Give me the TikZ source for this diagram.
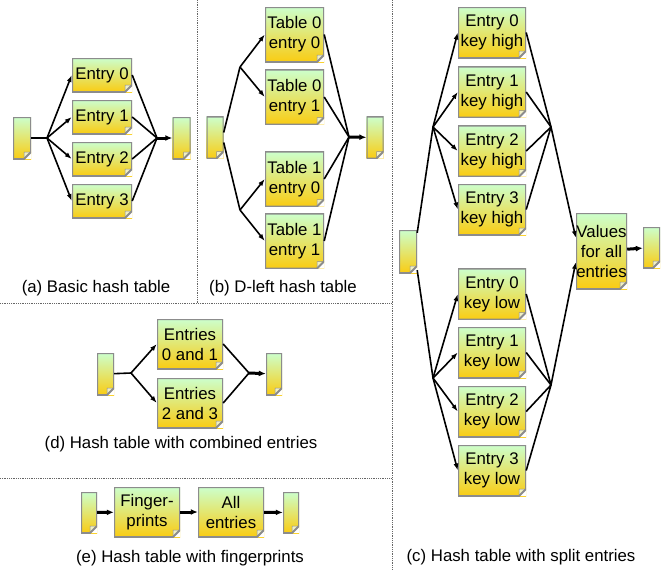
\documentclass[tikz,border=0pt]{standalone}
\usepackage{fontspec}
\setmainfont{Liberation Sans}
\usetikzlibrary{arrows.meta}
\definecolor{notetop}{RGB}{204,255,204}
\definecolor{notebot}{RGB}{250,204,18}
\definecolor{notefold}{RGB}{240,240,196}
\definecolor{noteline}{RGB}{140,140,140}
\tikzset{
  note/.style 2 args={minimum width=#1pt, minimum height=#2pt, inner sep=0pt, align=center,
    top color=notetop, bottom color=notebot, font=\fontsize{16.8}{20}\selectfont,
    path picture={
      \fill[white] ([xshift=-7pt]path picture bounding box.south east) -- (path picture bounding box.south east)
        -- ([yshift=7pt]path picture bounding box.south east) -- cycle;
      \filldraw[fill=notefold, draw=noteline, line width=0.5pt] ([xshift=-7pt]path picture bounding box.south east)
        -- ([shift={(-7pt,7pt)}]path picture bounding box.south east) -- ([yshift=7pt]path picture bounding box.south east) -- cycle;
      \draw[noteline, line width=2pt] (path picture bounding box.south west) -- (path picture bounding box.north west)
        -- (path picture bounding box.north east) -- ([yshift=7pt]path picture bounding box.south east)
        -- ([xshift=-7pt]path picture bounding box.south east) -- cycle;
    }},
  link/.style={line width=1.6pt},
  arr/.style={line width=1.6pt, -{Latex[length=7pt,width=5pt]}},
  outarr/.style={line width=3pt, -{Latex[length=7pt,width=6pt]}},
  sep/.style={densely dotted, line width=0.8pt, black!60},
  captxt/.style={font=\fontsize{16.8}{20}\selectfont}
}
\begin{document}
\begin{tikzpicture}[x=1pt,y=-1pt]
    \useasboundingbox (0,0) rectangle (668,570);
    \draw[sep] (197,0) -- (197,303);
    \draw[sep] (0,303) -- (392,303);
    \draw[sep] (392,0) -- (392,570);
    \draw[sep] (0,478) -- (392,478);

    \node[note={18}{42}] (inA) at (22,138) {};
    \node[note={60}{34}] (a0) at (102,75) {Entry 0};
    \node[note={60}{34}] (a1) at (102,117) {Entry 1};
    \node[note={60}{34}] (a2) at (102,159) {Entry 2};
    \node[note={60}{34}] (a3) at (102,201) {Entry 3};
    \node[note={18}{42}] (outA) at (181.5,138) {};
    \coordinate (splitA) at (47,138);
    \coordinate (joinA) at (157,138);
    \draw[link] (inA) -- (splitA);
    \foreach \i in {0,...,3} {
        \draw[arr] (splitA) -- (a\i.west);
        \draw[link] (a\i.east) -- (joinA);
    }
    \draw[outarr] (joinA) -- (outA);
    \node[captxt] (capA) at (96,288) {(a) Basic hash table};

    \node[note={17}{42}] (inB) at (215,137.5) {};
    \node[note={59}{55}] (b0) at (294.5,34.5) {Table 0\\entry 0};
    \node[note={59}{55}] (b1) at (294.5,97) {Table 0\\entry 1};
    \node[note={59}{55}] (b2) at (294.5,179) {Table 1\\entry 0};
    \node[note={59}{55}] (b3) at (294.5,241) {Table 1\\entry 1};
    \node[note={17}{42}] (outB) at (375,137.5) {};
    \coordinate (splitB0) at (240,67);
    \coordinate (splitB1) at (240,210);
    \coordinate (joinB) at (349,137);
    \draw[link] ([yshift=5pt]inB.east) -- (splitB0);
    \draw[link] ([yshift=-5pt]inB.east) -- (splitB1);
    \draw[arr] (splitB0) -- (b0.west);
    \draw[arr] (splitB0) -- (b1.west);
    \draw[arr] (splitB1) -- (b2.west);
    \draw[arr] (splitB1) -- (b3.west);
    \foreach \i in {0,...,3}
        \draw[link] (b\i.east) -- (joinB);
    \draw[outarr] (joinB) -- (outB);
    \node[captxt] (capB) at (283,288) {(b) D-left hash table};

    \node[note={18}{43}] (inC) at (408,251.5) {};
    \node[note={68}{51}] (hi0) at (492,32.5) {Entry 0\\key high};
    \node[note={68}{51}] (hi1) at (492,92) {Entry 1\\key high};
    \node[note={68}{51}] (hi2) at (492,151) {Entry 2\\key high};
    \node[note={68}{51}] (hi3) at (492,209.5) {Entry 3\\key high};
    \node[note={68}{51}] (lo0) at (492,294) {Entry 0\\key low};
    \node[note={68}{51}] (lo1) at (492,352.5) {Entry 1\\key low};
    \node[note={68}{51}] (lo2) at (492,411.5) {Entry 2\\key low};
    \node[note={68}{51}] (lo3) at (492,470.5) {Entry 3\\key low};
    \node[note={51}{76}] (vals) at (601.5,251) {Values\\for all\\entries};
    \node[note={17}{41}] (outC) at (651.5,247.5) {};
    \coordinate (splitHi) at (433,127);
    \coordinate (splitLo) at (433,378);
    \coordinate (joinHi) at (551,127);
    \coordinate (joinLo) at (551,385);
    \draw[link] ([yshift=-3pt]inC.north east) -- (splitHi);
    \draw[link] ([yshift=3pt]inC.south east) -- (splitLo);
    \foreach \i in {0,...,3} {
        \draw[arr] (splitHi) -- (hi\i.west);
        \draw[link] (hi\i.east) -- (joinHi);
        \draw[arr] (splitLo) -- (lo\i.west);
        \draw[link] (lo\i.east) -- (joinLo);
    }
    \draw[arr] (joinHi) -- ([yshift=13pt]vals.west);
    \draw[arr] (joinLo) -- ([yshift=-11pt]vals.west);
    \draw[outarr] (vals) -- (outC);
    \node[captxt] (capC) at (521,557) {(c) Hash table with split entries};

    \node[note={17}{42}] (inD) at (105.5,374) {};
    \node[note={66}{50}] (d0) at (190,344) {Entries\\0 and 1};
    \node[note={66}{50}] (d1) at (190,403) {Entries\\2 and 3};
    \node[note={16}{42}] (outD) at (274,374) {};
    \coordinate (splitD) at (131,373);
    \coordinate (joinD) at (249,373);
    \draw[link] (inD) -- (splitD);
    \draw[arr] (splitD) -- (d0.west);
    \draw[arr] (splitD) -- (d1.west);
    \draw[link] (d0.east) -- (joinD);
    \draw[link] (d1.east) -- (joinD);
    \draw[outarr] (joinD) -- (outD);
    \node[captxt] (capD) at (181,444) {(d) Hash table with combined entries};

    \node[note={16}{41}] (inE) at (89,512.5) {};
    \node[note={66}{50}] (fp) at (147,512) {Finger-\\prints};
    \node[note={66}{50}] (all) at (231,512) {All\\entries};
    \node[note={16}{41}] (outE) at (291,512.5) {};
    \draw[outarr] (inE) -- (fp);
    \draw[outarr] (fp) -- (all);
    \draw[outarr] (all) -- (outE);
    \node[captxt] (capE) at (190,558) {(e) Hash table with fingerprints};
\end{tikzpicture}
\end{document}
